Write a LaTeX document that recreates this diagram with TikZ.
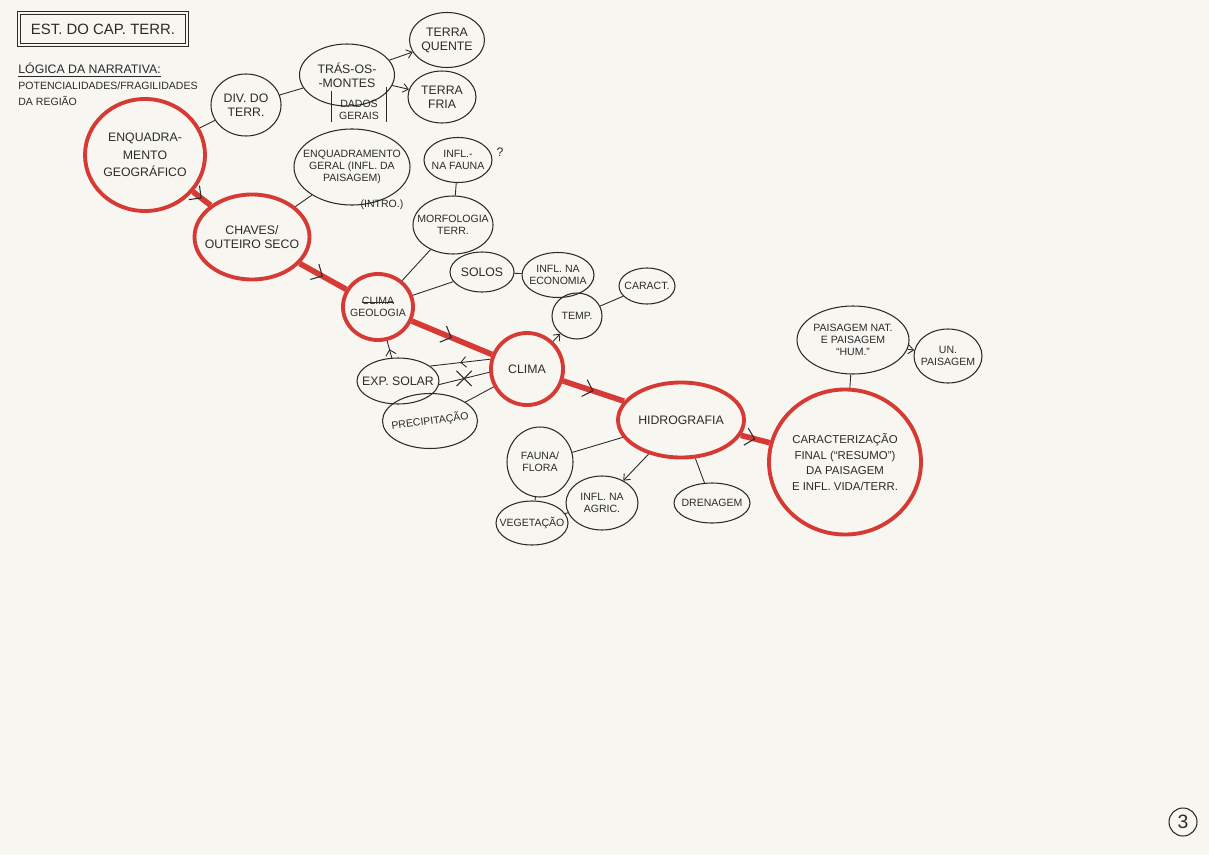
\documentclass[tikz,border=0pt]{standalone}
\usepackage{fontspec}
\setmainfont{Liberation Sans}
\usetikzlibrary{shapes.geometric,shapes.misc,arrows.meta,decorations.markings}
\definecolor{paper}{HTML}{F7F6F1}
\definecolor{redpen}{HTML}{D63A34}
\definecolor{ink}{HTML}{2A2A2A}
\newsavebox{\mystrk}
\newcommand\strikeit[1]{\sbox{\mystrk}{#1}\rlap{\rule[0.35ex]{\wd\mystrk}{0.5pt}}\usebox{\mystrk}}
\begin{document}
\begin{tikzpicture}[x=0.02cm,y=-0.02cm,
  every node/.style={font=\fontsize{7}{8}\selectfont, text=ink},
  sz/.style 2 args={minimum width=#1*0.02cm, minimum height=#2*0.02cm},
  bub/.style={ellipse, draw=ink, line width=0.6pt, inner sep=-40pt, align=center},
  redbub/.style={ellipse, draw=redpen, line width=2.2pt, inner sep=-40pt, align=center},
  small/.style={font=\fontsize{6}{7}\selectfont},
  link/.style={draw=ink, line width=0.5pt},
  tip/.style={-{Straight Barb[length=3pt,width=5pt]}},
  midtick/.style={postaction={decorate}, decoration={markings, mark=at position 0.5 with {\arrow[color=ink,line width=0.5pt]{Straight Barb[length=3pt,width=6pt]}}}},
  redlink/.style={draw=redpen, line width=3.2pt, postaction={decorate}, decoration={markings, mark=at position 0.5 with {\arrow[color=ink,line width=0.6pt]{Straight Barb[length=5pt,width=10pt]}}}},
  xmark/.style={cross out, draw=ink, line width=0.6pt, minimum size=8pt, inner sep=0pt}
]
\fill[paper] (0,0) rectangle (1209,855);
\useasboundingbox (0,0) rectangle (1209,855);

% header
\node[draw=ink, line width=0.5pt, double=paper, double distance=1.5pt, sz={168}{32}, font=\fontsize{8.5}{10}\selectfont] (title) at (103,29) {EST. DO CAP. TERR.};
\node[anchor=west, inner sep=0pt] (logica) at (18,70) {\underline{LÓGICA DA NARRATIVA:}};
\node[anchor=west, inner sep=0pt, small] (pot) at (18,86) {POTENCIALIDADES/FRAGILIDADES};
\node[anchor=west, inner sep=0pt, small] (reg) at (18,101) {DA REGIÃO};

% nodes
\node[bub, sz={70}{62}] (div) at (246,105) {DIV. DO\\TERR.};
\node[bub, sz={95}{62}] (tras) at (347,75) {TRÁS-OS-\\-MONTES};
\node[small, align=center, inner xsep=4pt, inner ysep=1pt] (dados) at (359,110) {DADOS\\GERAIS};
\node[bub, sz={75}{55}] (tq) at (447,40) {TERRA\\QUENTE};
\node[bub, sz={68}{52}] (tf) at (442,97) {TERRA\\FRIA};
\node[redbub, sz={120}{112}, font=\fontsize{7}{10}\selectfont] (enq) at (145,155) {ENQUADRA-\\MENTO\\GEOGRÁFICO};
\node[bub, sz={116}{76}, small] (ger) at (352,167) {ENQUADRAMENTO\\GERAL (INFL. DA\\PAISAGEM)};
\node[small] (intro) at (382,205) {(INTRO.)};
\node[redbub, sz={115}{85}] (chv) at (252,237) {CHAVES/\\OUTEIRO SECO};
\node[bub, sz={68}{45}, small] (fau) at (458,160) {INFL.-\\NA FAUNA};
\node (q) at (500,152) {?};
\node[bub, sz={80}{58}, small] (mor) at (453,225) {MORFOLOGIA\\TERR.};
\node[redbub, sz={70}{66}, small] (geo) at (378,307) {\strikeit{CLIMA}\\GEOLOGIA};
\node[bub, sz={64}{40}] (sol) at (482,272) {SOLOS};
\node[bub, sz={72}{45}, small] (eco) at (558,275) {INFL. NA\\ECONOMIA};
\node[bub, sz={56}{36}, small] (car) at (647,286) {CARACT.};
\node[bub, sz={50}{46}, small] (tmp) at (577,316) {TEMP.};
\node[redbub, sz={72}{72}] (cli) at (527,369) {CLIMA};
\node[bub, sz={82}{46}] (exp) at (398,381) {EXP. SOLAR};
\node[bub, sz={95}{55}, small] (pre) at (430,421) {\rotatebox{8}{PRECIPITAÇÃO}};
\node[redbub, sz={126}{75}] (hid) at (681,420) {HIDROGRAFIA};
\node[redbub, sz={152}{145}, small, font=\fontsize{6.5}{9}\selectfont] (fin) at (845,462) {CARACTERIZAÇÃO\\FINAL (“RESUMO”)\\DA PAISAGEM\\E INFL. VIDA/TERR.};
\node[bub, sz={112}{68}, small] (pai) at (853,340) {PAISAGEM NAT.\\E PAISAGEM\\“HUM.”};
\node[bub, sz={68}{54}, small] (unp) at (948,356) {UN.\\PAISAGEM};
\node[bub, sz={66}{70}, small] (ff) at (540,462) {FAUNA/\\FLORA};
\node[bub, sz={72}{44}, small] (veg) at (532,523) {VEGETAÇÃO};
\node[bub, sz={72}{54}, small] (agr) at (602,503) {INFL. NA\\AGRIC.};
\node[bub, sz={76}{40}, small] (dre) at (712,503) {DRENAGEM};
\node[circle, draw=ink, line width=0.6pt, minimum size=28*0.02cm, inner sep=0pt, font=\fontsize{11}{12}\selectfont] (pg) at (1183,822) {3};

% dados gerais brackets
\draw[link] ([yshift=4pt]dados.north west) -- (dados.south west);
\draw[link] ([yshift=6pt]dados.north east) -- (dados.south east);

% black links
\draw[link] (enq) -- (div);
\draw[link] (div) -- (tras);
\draw[link, tip] (tras) -- (tq);
\draw[link, tip] (tras) -- (tf);
\draw[link] (chv) -- (ger);
\draw[link] (fau) -- (mor);
\draw[link] (mor) -- (geo);
\draw[link] (geo) -- (sol);
\draw[link] (sol) -- (eco);
\draw[link] (tmp) -- (car);
\draw[link, tip] (cli) -- (tmp);
\draw[link, midtick] (exp) -- (geo);
\draw[link, midtick] (cli.165) -- (exp.25);
\draw[link] (exp.-5) -- node[xmark] (xm) {} (cli.185);
\draw[link] (pre) -- (cli);
\draw[link] (hid) -- (ff);
\draw[link] (ff) -- (veg);
\draw[link] (veg) -- (agr);
\draw[link, tip] (hid) -- (agr);
\draw[link] (hid) -- (dre);
\draw[link, tip] (pai) -- (unp);
\draw[link] (pai) -- (fin);

% red main path
\draw[redlink] (enq) -- (chv);
\draw[redlink] (chv) -- (geo);
\draw[redlink] (geo) -- (cli);
\draw[redlink] (cli) -- (hid);
\draw[redlink] (hid) -- (fin);
\end{tikzpicture}
\end{document}
